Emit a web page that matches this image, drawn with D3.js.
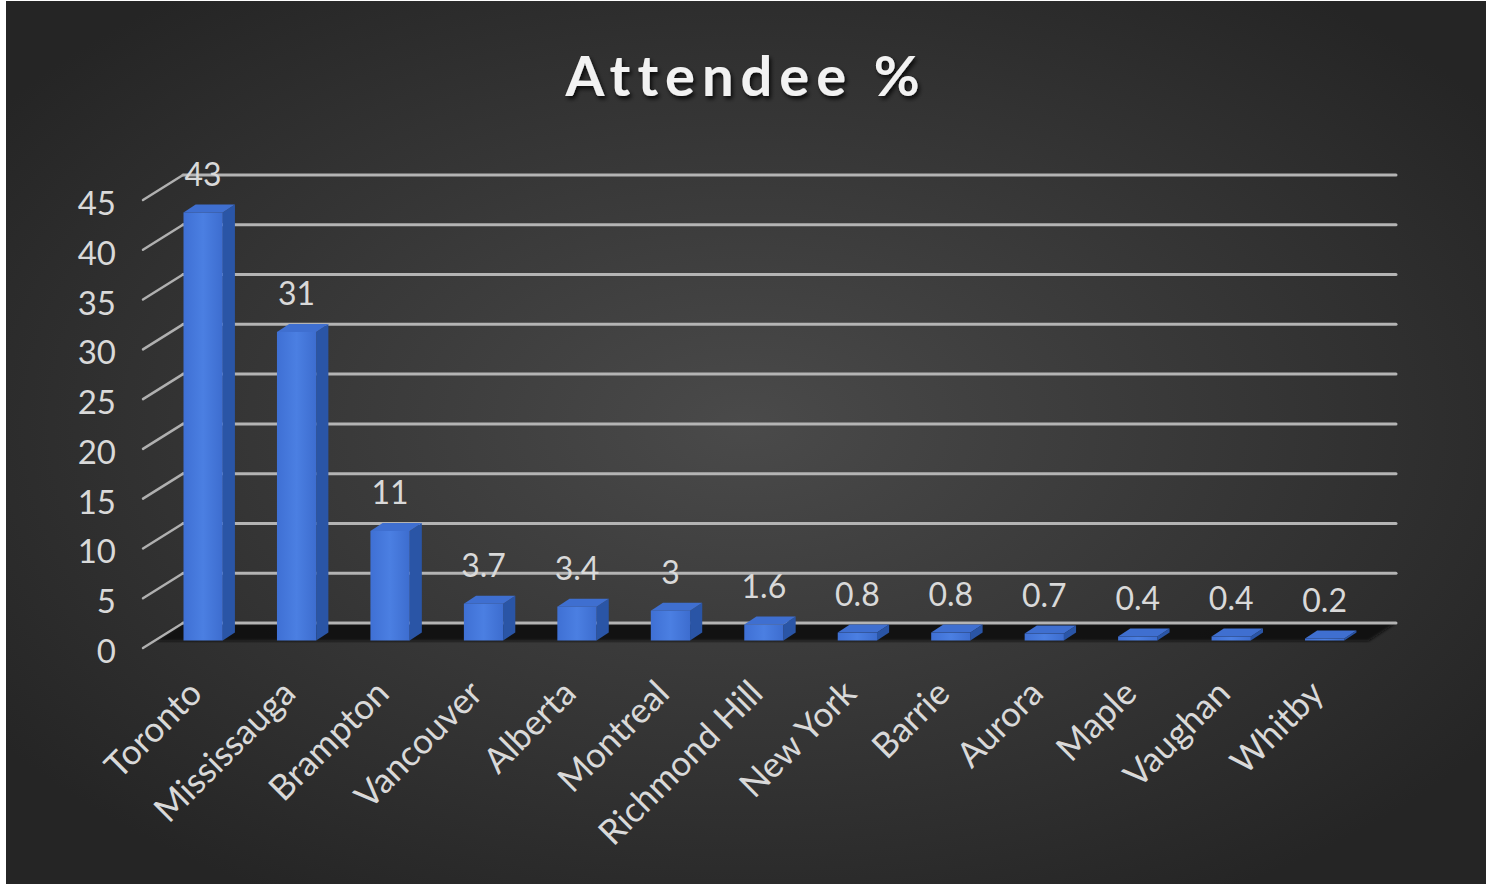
<!DOCTYPE html>
<html>
<head>
<meta charset="utf-8">
<script src="https://cdn.jsdelivr.net/npm/d3@7"></script>
<style>
html,body{margin:0;padding:0;background:#ffffff;}
svg{display:block;}
</style>
</head>
<body>
<svg id="chart" width="1494" height="884"></svg>
<script>
const categories = ["Toronto","Mississauga","Brampton","Vancouver","Alberta","Montreal","Richmond Hill","New York","Barrie","Aurora","Maple","Vaughan","Whitby"];
const values = [43, 31, 11, 3.7, 3.4, 3, 1.6, 0.8, 0.8, 0.7, 0.4, 0.4, 0.2];
const yTicks = [0, 5, 10, 15, 20, 25, 30, 35, 40, 45];
const titleText = "Attendee %";

const svg = d3.select("#chart");
const defs = svg.append("defs");

const bg = defs.append("radialGradient").attr("id","bgGrad")
  .attr("cx","50%").attr("cy","48%").attr("r","62%");
bg.append("stop").attr("offset","0%").attr("stop-color","#4a4a4a");
bg.append("stop").attr("offset","100%").attr("stop-color","#252525");

const frontGrad = defs.append("linearGradient").attr("id","frontGrad")
  .attr("x1","0").attr("y1","0").attr("x2","1").attr("y2","0");
frontGrad.append("stop").attr("offset","0%").attr("stop-color","#3f70d4");
frontGrad.append("stop").attr("offset","50%").attr("stop-color","#4b7fe2");
frontGrad.append("stop").attr("offset","100%").attr("stop-color","#3d6dcf");

const shadow = defs.append("filter").attr("id","tshadow").attr("x","-10%").attr("y","-20%").attr("width","130%").attr("height","150%");
shadow.append("feDropShadow").attr("dx",2).attr("dy",3).attr("stdDeviation",2).attr("flood-color","#000").attr("flood-opacity",0.8);

const floorBlur = defs.append("filter").attr("id","fblur");
floorBlur.append("feGaussianBlur").attr("stdDeviation",1.5);

svg.append("rect").attr("x",6).attr("y",1).attr("width",1480).attr("height",883).attr("fill","url(#bgGrad)");

const DX = 38, DY = -25;
const y = d3.scaleLinear().domain([0,45]).range([648,200]);
const x = d3.scaleBand().domain(categories).range([145,1360]).paddingInner(0.58).paddingOuter(0.29);
const X0 = 145, X1 = 1358;
function P(xf, v, d){ return [xf + DX*d, y(v) + DY*d]; }
const line = d3.line();

const fd0 = 0.28;
svg.append("path")
  .attr("d", line([P(X0,0,fd0),P(X1,0,fd0),P(X1,0,1),P(X0,0,1)]) + "Z")
  .attr("fill","#0a0a0a").attr("fill-opacity",0.9).attr("filter","url(#fblur)");

const grid = svg.append("g").attr("stroke","#b4b4b4").attr("stroke-width",3).attr("fill","none").attr("stroke-linecap","round");
yTicks.forEach(v=>{
  grid.append("path").attr("d", line([P(X0,v,1),P(X1,v,1)]));
  grid.append("path").attr("d", line([P(X0-2,v,0),P(X0,v,1)])).attr("stroke","#b0b0b0").attr("stroke-width",2.5);
});

svg.append("g").selectAll("text").data(yTicks).join("text")
  .attr("x",116).attr("y",d=>y(d)+2)
  .attr("text-anchor","end").attr("dominant-baseline","central")
  .attr("font-family","Lato, 'Open Sans', sans-serif").attr("font-size",33)
  .attr("fill","#d9d9d9").text(d=>d);

const d0 = 0.3, d1 = 0.62;
const bars = svg.append("g");
categories.forEach((c,i)=>{
  const v = values[i];
  const xa = x(c), xb = x(c)+x.bandwidth();
  const g = bars.append("g");
  g.append("path").attr("d", line([P(xb,0,d0),P(xb,v,d0),P(xb,v,d1),P(xb,0,d1)])+"Z").attr("fill","#2a55a6");
  const f0 = P(xa,v,d0), f1 = P(xb,0,d0);
  g.append("rect").attr("x",f0[0]).attr("y",f0[1]).attr("width",f1[0]-f0[0]).attr("height",Math.max(0,f1[1]-f0[1])).attr("fill","url(#frontGrad)");
  g.append("path").attr("d", line([P(xa,v,d0),P(xb,v,d0),P(xb,v,d1),P(xa,v,d1)])+"Z").attr("fill","#3f6fd0");
  const lp = P((xa+xb)/2, v, d0);
  svg.append("text").attr("x",lp[0]).attr("y",lp[1]-39)
    .attr("text-anchor","middle").attr("dominant-baseline","central")
    .attr("font-family","Lato, 'Open Sans', sans-serif").attr("font-size",32)
    .attr("fill","#d9d9d9").text(v);
});

svg.append("g").selectAll("text").data(categories).join("text")
  .attr("transform", d=>{ const p = P(x(d)+x.bandwidth()/2, 0, d0); return `translate(${p[0]+1},${p[1]+55}) rotate(-45)`; })
  .attr("text-anchor","end")
  .attr("font-family","Lato, 'Open Sans', sans-serif").attr("font-size",35)
  .attr("fill","#d9d9d9").text(d=>d);

svg.append("text").attr("x",746).attr("y",96).attr("text-anchor","middle")
  .attr("font-family","Lato, 'Open Sans', sans-serif").attr("font-weight","bold")
  .attr("font-size",56).attr("letter-spacing",7)
  .attr("fill","#f2f2f2").attr("filter","url(#tshadow)").text(titleText);
</script>
</body>
</html>
